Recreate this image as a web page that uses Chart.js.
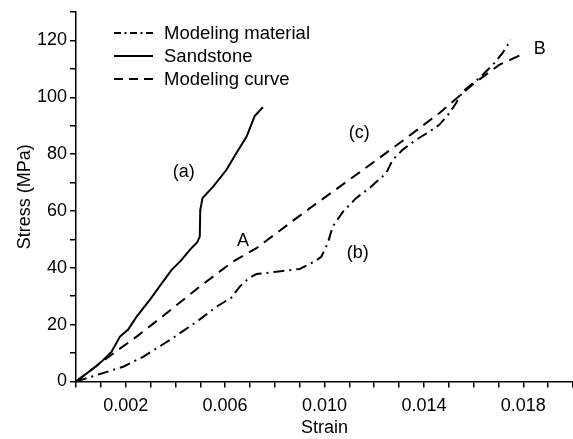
<!DOCTYPE html>
<html>
<head>
<meta charset="utf-8">
<script src="https://cdn.jsdelivr.net/npm/chart.js@4/dist/chart.umd.min.js"></script>
<style>
    html, body { margin: 0; padding: 0; background: #fff; }
    #wrap { width: 573px; height: 439px; position: relative; }
</style>
</head>
<body>
<div id="wrap"><canvas id="stressChart"></canvas></div>
<script>
    /** 데이터 **/
    const sandstoneStrain = [0, 0.00069, 0.00103, 0.00143, 0.00177, 0.0021, 0.00244, 0.00297, 0.00345, 0.00384, 0.00424, 0.00458, 0.00488, 0.00498, 0.0050, 0.00509, 0.00551, 0.00605, 0.00645, 0.00686, 0.00719, 0.00752];
    const sandstoneStress = [0, 4.6, 7.0, 10.5, 15.8, 18.3, 22.8, 28.7, 34.5, 39.2, 42.7, 46.3, 49.0, 51.0, 60.3, 64.5, 68.5, 74.4, 80.3, 86.1, 93.4, 96.5];

    const curveStrain = [0, 0.0015, 0.00244, 0.00364, 0.00498, 0.00632, 0.00726, 0.0086, 0.0094, 0.01154, 0.01301, 0.01462, 0.01602, 0.01703, 0.01806];
    const curveStress = [0, 9.9, 15.8, 24.0, 33.4, 42.2, 46.9, 55.7, 60.9, 74.4, 83.8, 94.4, 104.9, 111.4, 115.5];

    const materialStrain = [0, 0.0019, 0.0027, 0.00378, 0.00485, 0.00565, 0.00625, 0.00659, 0.00695, 0.00726, 0.00806, 0.009, 0.0096, 0.00987, 0.01013, 0.01033, 0.01074, 0.01127, 0.01187, 0.01248, 0.01274, 0.01314, 0.01368, 0.01422, 0.01462, 0.01502, 0.01529, 0.01556, 0.01629, 0.01683, 0.01716, 0.0175];
    const materialStress = [0, 5.2, 8.7, 14.6, 21.0, 26.3, 29.5, 33.4, 36.3, 37.8, 38.6, 39.6, 42.2, 43.9, 48.6, 54.5, 59.7, 64.5, 68.5, 73.3, 77.9, 81.5, 85.0, 87.9, 90.3, 94.4, 97.9, 102.0, 107.2, 112.0, 115.5, 120.2];

    const seriesNames = ["Modeling material", "Sandstone", "Modeling curve"];
    const xTickLabels = ["0.002", "0.006", "0.010", "0.014", "0.018"];
    const yTickLabels = [0, 20, 40, 60, 80, 100, 120];

    const noteTexts = ["(a)", "(b)", "(c)", "A", "B"];
    const noteStrain = [0.00434, 0.01134, 0.0114, 0.00672, 0.01866];
    const noteStress = [73.7, 45.1, 87.3, 49.5, 116.9];

    const FONT = "Arial, 'Liberation Sans', sans-serif";

    function toPoints(xs, ys)
    {
        return xs.map((x, i) => ({x: x, y: ys[i]}));
    }

    /** 범례 (차트 영역 안쪽 좌상단) **/
    const innerLegend = {
        id: 'innerLegend',
        afterDraw(chart) {
            const ctx = chart.ctx;
            const x0 = 114, x1 = 153, tx = 164;
            ctx.save();
            ctx.font = `18.5px ${FONT}`;
            ctx.textBaseline = 'middle';
            ctx.fillStyle = '#000';
            chart.data.datasets.forEach((ds, i) => {
                const y = 33 + i * 23;
                ctx.beginPath();
                ctx.setLineDash(ds.legendDash || []);
                ctx.lineWidth = ds.borderWidth;
                ctx.strokeStyle = ds.borderColor;
                ctx.moveTo(x0, y);
                ctx.lineTo(x1, y);
                ctx.stroke();
                ctx.setLineDash([]);
                ctx.fillText(ds.label, tx, y + 1);
            });
            ctx.restore();
        }
    };

    /** 곡선 표시 문자 **/
    const curveNotes = {
        id: 'curveNotes',
        afterDatasetsDraw(chart) {
            const {ctx, scales} = chart;
            ctx.save();
            ctx.font = `18px ${FONT}`;
            ctx.textAlign = 'center';
            ctx.textBaseline = 'middle';
            ctx.fillStyle = '#000';
            noteTexts.forEach((t, i) => {
                ctx.fillText(t, scales.x.getPixelForValue(noteStrain[i]), scales.y.getPixelForValue(noteStress[i]));
            });
            ctx.restore();
        }
    };

    function lineDataset(label, data, dash, legendDash)
    {
        return {
            label: label,
            data: data,
            borderColor: '#000',
            backgroundColor: 'transparent',
            borderWidth: 2,
            borderDash: dash,
            legendDash: legendDash,
            pointRadius: 0,
            tension: 0,
            fill: false,
        };
    }

    new Chart(document.getElementById('stressChart'), {
        type: 'line',
        data: {
            datasets: [
                lineDataset(seriesNames[0], toPoints(materialStrain, materialStress), [11, 5, 2, 5], [7, 3.5, 2, 3.5]),
                lineDataset(seriesNames[1], toPoints(sandstoneStrain, sandstoneStress), [], []),
                lineDataset(seriesNames[2], toPoints(curveStrain, curveStress), [11, 7], [9, 6]),
            ]
        },
        options: {
            responsive: true,
            maintainAspectRatio: false,
            animation: false,
            layout: { padding: { top: 12, right: 0, left: 0, bottom: 0 } },
            plugins: {
                legend: { display: false },
                tooltip: { enabled: false },
            },
            scales: {
                x: {
                    type: 'linear',
                    min: 0,
                    max: 0.02,
                    border: { display: true, color: '#000', width: 1.5 },
                    grid: { drawOnChartArea: false, drawTicks: true, tickLength: 6, color: '#000', lineWidth: 1.5 },
                    ticks: {
                        stepSize: 0.001,
                        autoSkip: false,
                        maxRotation: 0,
                        padding: 8,
                        color: '#000',
                        font: { family: FONT, size: 18 },
                        callback: function (v) {
                            const s = v.toFixed(3);
                            return xTickLabels.includes(s) ? s : '';
                        }
                    },
                    title: {
                        display: true,
                        text: 'Strain',
                        color: '#000',
                        font: { family: FONT, size: 18 },
                        padding: { top: 0, bottom: 0 }
                    },
                    afterFit: function (scale) {
                        scale.height = 57.5;
                        scale.paddingLeft = 0;
                        scale.paddingRight = 0;
                    }
                },
                y: {
                    type: 'linear',
                    min: 0,
                    max: 130,
                    border: { display: true, color: '#000', width: 1.5 },
                    grid: { drawOnChartArea: false, drawTicks: true, tickLength: 6, color: '#000', lineWidth: 1.5 },
                    ticks: {
                        stepSize: 10,
                        autoSkip: false,
                        padding: 3,
                        color: '#000',
                        font: { family: FONT, size: 18 },
                        callback: function (v) {
                            return yTickLabels.includes(v) ? String(v) : '';
                        }
                    },
                    title: {
                        display: true,
                        text: 'Stress (MPa)',
                        color: '#000',
                        font: { family: FONT, size: 18 },
                        padding: { top: 14, bottom: 0 }
                    },
                    afterFit: function (scale) {
                        scale.width = 76;
                        scale.paddingTop = 0;
                        scale.paddingBottom = 0;
                    }
                }
            }
        },
        plugins: [innerLegend, curveNotes]
    });
</script>
</body>
</html>
